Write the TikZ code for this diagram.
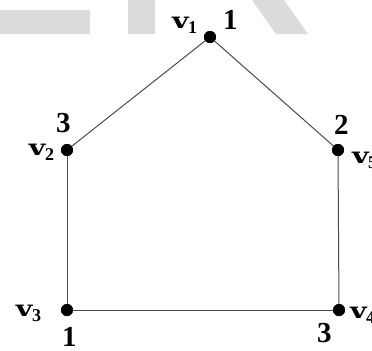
\documentclass[tikz,border=0pt]{standalone}
\usepackage{fontspec}
\usepackage{graphicx}
\setmainfont{Liberation Serif}
\newfontfamily\vfont{DejaVu Serif}
\newcommand\vlab[1]{{\vfont\fontsize{22bp}{24bp}\selectfont\bfseries\scalebox{1.3}[1]{v}\kern-0.5bp\raisebox{-0.45ex}{\fontsize{18bp}{18bp}\selectfont\rmfamily\bfseries #1}}}
\newcommand\numlab[1]{{\fontsize{29bp}{30bp}\selectfont\bfseries #1}}
\tikzset{
  wm/.style={fill=black!14, draw=none},
  vdot/.style={circle, fill=black, inner sep=0pt, minimum size=12bp},
  edge/.style={draw=black!70, line width=1bp},
  lab/.style={anchor=base west, inner sep=0pt, outer sep=0pt},
}
\begin{document}
\begin{tikzpicture}[x=1bp,y=-1bp]
\useasboundingbox (0,0) rectangle (372,351);
\clip (0,0) rectangle (372,351);
\fill[white] (0,0) rectangle (372,351);
% watermark shapes
\fill[wm] (0,10) rectangle (90,34);
\fill[wm] (128,0) rectangle (155,34);
\fill[wm] (252,0) -- (284,0) -- (308,34) -- (276,34) -- cycle;
% vertices
\node[vdot] (v1) at (210,37) {};
\node[vdot] (v2) at (67,150) {};
\node[vdot] (v5) at (338,150) {};
\node[vdot] (v3) at (67,310) {};
\node[vdot] (v4) at (339,310) {};
% edges
\draw[edge] (v1.center) -- (v2.center);
\draw[edge] (v1.center) -- (v5.center);
\draw[edge] (v2.center) -- (v3.center);
\draw[edge] (v3.center) -- (v4.center);
\draw[edge] (v5.center) -- (v4.center);
\node[vdot] at (v1) {};
\node[vdot] at (v2) {};
\node[vdot] at (v5) {};
\node[vdot] at (v3) {};
\node[vdot] at (v4) {};
% vertex names
\node[lab] (n1) at (172,28) {\vlab{1}};
\node[lab] (n2) at (29,155) {\vlab{2}};
\node[lab] (n5) at (352,163) {\vlab{5}};
\node[lab] (n3) at (16,316) {\vlab{3}};
\node[lab] (n4) at (350,318) {\vlab{4}};
% colour numbers
\node[lab] (c1) at (223,29) {\numlab{1}};
\node[lab] (c2) at (56,132) {\numlab{3}};
\node[lab] (c5) at (334,134) {\numlab{2}};
\node[lab] (c3) at (62,346) {\numlab{1}};
\node[lab] (c4) at (317,342) {\numlab{3}};
\end{tikzpicture}
\end{document}
